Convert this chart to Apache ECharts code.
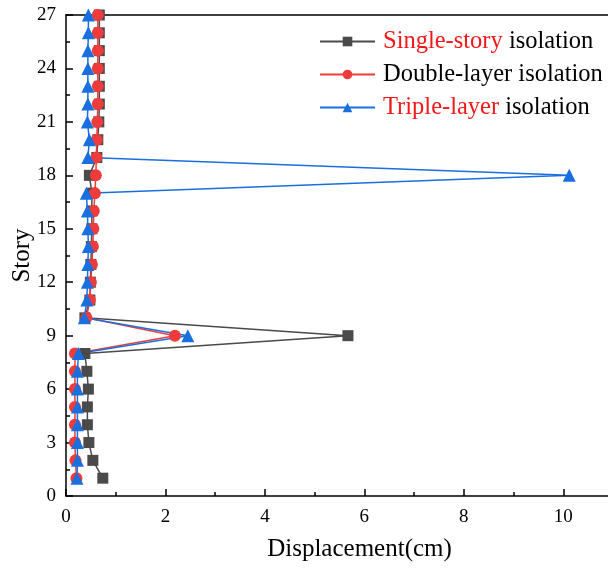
<!DOCTYPE html>
<html><head><meta charset="utf-8">
<script src="https://cdn.jsdelivr.net/npm/echarts@6/dist/echarts.min.js"></script>
<style>html,body{margin:0;padding:0;background:#fff}#c{width:608px;height:568px}</style>
</head><body><div id="c"></div>
<script>
var stories = [1,2,3,4,5,6,7,8,9,10,11,12,13,14,15,16,17,18,19,20,21,22,23,24,25,26,27];
var singleStory = [0.74,0.54,0.46,0.43,0.43,0.45,0.42,0.38,5.67,0.38,0.48,0.49,0.50,0.51,0.52,0.52,0.52,0.47,0.62,0.64,0.66,0.67,0.67,0.67,0.67,0.67,0.67];
var doubleLayer = [0.21,0.19,0.18,0.18,0.18,0.18,0.18,0.18,2.19,0.41,0.48,0.50,0.52,0.54,0.55,0.56,0.58,0.60,0.61,0.62,0.63,0.64,0.64,0.64,0.64,0.64,0.64];
var tripleLayer = [0.22,0.23,0.23,0.23,0.23,0.23,0.23,0.25,2.45,0.37,0.42,0.43,0.44,0.45,0.44,0.43,0.41,10.12,0.44,0.47,0.43,0.44,0.44,0.44,0.44,0.45,0.45];
var seriesNames = ['Single-story isolation','Double-layer isolation','Triple-layer isolation'];
var xTicks = {min:0, max:11, interval:2};
var yTicks = {min:0, max:27, interval:3};

function pairs(vals){ return vals.map(function(v,i){ return [v, stories[i]]; }); }
var font = 'Liberation Serif, Times New Roman, serif';
var chart = echarts.init(document.getElementById('c'));
chart.setOption({
  animation:false,
  backgroundColor:'#fff',
  grid:{left:66, top:15, width:547, height:481, containLabel:false, outerBoundsMode:'none'},
  legend:{
    left:319, top:29, orient:'vertical', itemGap:8, itemWidth:55, itemHeight:12, padding:0,
    data:seriesNames,
    formatter:function(n){
      if(n==='Single-story isolation') return '{r|Single-story} {b|isolation}';
      if(n==='Triple-layer isolation') return '{r|Triple-layer} {b|isolation}';
      return '{b|'+n+'}';
    },
    textStyle:{fontFamily:font, fontSize:24.5, color:'#000', padding:[0,0,0,3],
      rich:{r:{color:'#f01818',fontFamily:font,fontSize:24.5},b:{color:'#000',fontFamily:font,fontSize:24.5}}}
  },
  xAxis:[{
    type:'value', min:xTicks.min, max:xTicks.max, interval:xTicks.interval,
    name:'Displacement(cm)', nameLocation:'middle', nameGap:41, nameMoveOverlap:false,
    nameTextStyle:{fontFamily:font, fontSize:25, color:'#000', padding:[0,0,0,40]},
    axisLine:{show:true, lineStyle:{color:'#000', width:1.5}},
    axisTick:{show:true, inside:true, length:7, lineStyle:{color:'#000', width:1.5}},
    minorTick:{show:true, splitNumber:2, length:4, lineStyle:{color:'#000', width:1.5}},
    axisLabel:{fontFamily:font, fontSize:19, color:'#000', margin:12, showMaxLabel:false},
    splitLine:{show:false}
  },{
    type:'value', position:'top', min:xTicks.min, max:xTicks.max,
    axisLine:{show:true, lineStyle:{color:'#000', width:1.5}},
    axisTick:{show:false}, axisLabel:{show:false}, splitLine:{show:false}
  }],
  yAxis:{
    type:'value', min:yTicks.min, max:yTicks.max, interval:yTicks.interval,
    name:'Story', nameLocation:'middle', nameGap:31, nameMoveOverlap:false,
    nameTextStyle:{fontFamily:font, fontSize:25, color:'#000'},
    axisLine:{show:true, lineStyle:{color:'#000', width:1.5}},
    axisTick:{show:true, inside:true, length:7, lineStyle:{color:'#000', width:1.5}},
    minorTick:{show:true, splitNumber:2, length:4, lineStyle:{color:'#000', width:1.5}},
    axisLabel:{fontFamily:font, fontSize:19, color:'#000', margin:10},
    splitLine:{show:false}
  },
  series:[
    {name:seriesNames[0], type:'line', data:pairs(singleStory), symbol:'rect', symbolSize:11,
     color:'#4a4a4a', lineStyle:{width:1.5, color:'#4a4a4a'}, itemStyle:{color:'#4a4a4a'}},
    {name:seriesNames[1], type:'line', data:pairs(doubleLayer), symbol:'circle', symbolSize:12,
     color:'#ee3b3b', lineStyle:{width:1.5, color:'#ee3b3b'}, itemStyle:{color:'#ee3b3b'}},
    {name:seriesNames[2], type:'line', data:pairs(tripleLayer), symbol:'triangle', symbolSize:13,
     color:'#1a6fdf', lineStyle:{width:1.5, color:'#1a6fdf'}, itemStyle:{color:'#1a6fdf'}}
  ]
});
</script></body></html>
